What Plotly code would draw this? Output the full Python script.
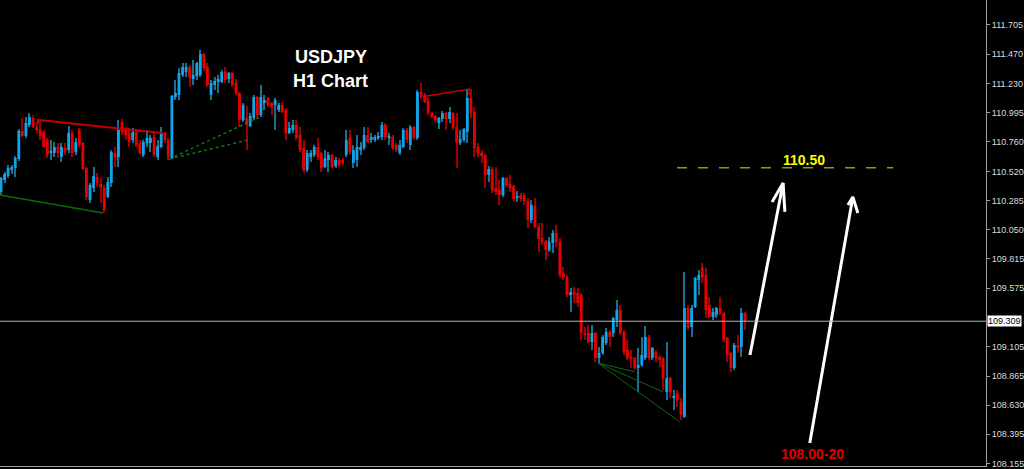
import plotly.graph_objects as go

# -----------------------------------------------------
# USDJPY H1 candles (oldest -> newest)
# -----------------------------------------------------
open_ = [
    110.354, 110.451, 110.484, 110.532, 110.548, 110.621, 110.848, 110.807, 110.896, 110.953,
    110.880, 110.864, 110.840, 110.775, 110.670, 110.670, 110.718, 110.637, 110.710, 110.694,
    110.831, 110.678, 110.856, 110.751, 110.548, 110.290, 110.387, 110.475, 110.419, 110.387,
    110.314, 110.427, 110.670, 110.637, 110.920, 110.864, 110.831, 110.775, 110.840, 110.751,
    110.654, 110.751, 110.751, 110.799, 110.637, 110.718, 110.831, 110.775, 110.629, 111.123,
    111.139, 111.301, 111.325, 111.365, 111.268, 111.292, 111.301, 111.470, 111.365, 111.139,
    111.220, 111.244, 111.244, 111.325, 111.268, 111.317, 111.236, 111.155, 110.937, 110.953,
    110.888, 110.953, 111.123, 110.977, 111.074, 111.114, 111.074, 111.058, 111.017, 111.058,
    111.017, 110.831, 110.856, 110.896, 110.815, 110.710, 110.532, 110.637, 110.654, 110.718,
    110.670, 110.556, 110.613, 110.654, 110.565, 110.613, 110.613, 110.654, 110.791, 110.589,
    110.613, 110.694, 110.710, 110.815, 110.775, 110.775, 110.791, 110.799, 110.896, 110.791,
    110.799, 110.734, 110.670, 110.718, 110.856, 110.734, 110.880, 110.791, 111.163, 111.139,
    111.090, 110.993, 110.969, 110.912, 110.945, 110.993, 110.945, 110.993, 110.880, 110.751,
    110.775, 110.840, 111.114, 111.001, 110.718, 110.670, 110.654, 110.492, 110.540, 110.387,
    110.370, 110.330, 110.467, 110.419, 110.403, 110.306, 110.330, 110.330, 110.282, 110.128,
    110.241, 110.071, 109.982, 109.958, 109.885, 109.942, 110.023, 109.950, 109.699, 109.667,
    109.521, 109.546, 109.538, 109.521, 109.214, 109.214, 109.141, 109.214, 109.012, 109.053,
    109.133, 109.222, 109.214, 109.319, 109.400, 109.222, 109.077, 109.020, 109.012, 108.931,
    108.955, 109.012, 109.182, 109.012, 109.061, 109.020, 109.012, 108.737, 108.850, 108.688,
    108.729, 108.656, 108.535, 109.416, 109.262, 109.424, 109.643, 109.740, 109.683, 109.440,
    109.343, 109.360, 109.416, 109.376, 109.173, 109.053, 108.931, 109.117, 109.101, 109.376,
]
high = [
    110.475, 110.516, 110.573, 110.573, 110.645, 110.864, 110.953, 110.961, 110.993, 110.977,
    110.920, 110.937, 110.856, 110.791, 110.775, 110.759, 110.751, 110.751, 110.751, 110.888,
    110.856, 110.791, 110.872, 110.759, 110.556, 110.427, 110.556, 110.508, 110.467, 110.411,
    110.475, 110.694, 110.718, 110.937, 110.945, 110.880, 110.872, 110.872, 110.856, 110.775,
    110.775, 110.856, 110.815, 110.831, 110.775, 110.880, 110.840, 110.791, 111.139, 111.260,
    111.357, 111.398, 111.398, 111.381, 111.422, 111.406, 111.503, 111.478, 111.398, 111.260,
    111.284, 111.301, 111.341, 111.365, 111.325, 111.325, 111.268, 111.163, 111.074, 111.050,
    110.993, 111.139, 111.131, 111.220, 111.139, 111.123, 111.082, 111.114, 111.074, 111.082,
    111.034, 110.920, 110.937, 110.937, 110.880, 110.775, 110.694, 110.694, 110.734, 110.791,
    110.678, 110.694, 110.678, 110.662, 110.637, 110.629, 110.629, 110.856, 110.856, 110.734,
    110.815, 110.759, 110.880, 110.880, 110.831, 110.815, 110.840, 110.920, 110.912, 110.831,
    110.815, 110.751, 110.775, 110.872, 110.872, 110.896, 110.888, 111.179, 111.236, 111.155,
    111.114, 111.001, 110.977, 110.961, 111.009, 111.001, 111.042, 111.001, 110.993, 110.856,
    110.872, 111.179, 111.187, 111.042, 110.751, 110.694, 110.662, 110.565, 110.556, 110.556,
    110.451, 110.475, 110.475, 110.492, 110.411, 110.362, 110.346, 110.346, 110.306, 110.290,
    110.306, 110.104, 110.104, 109.966, 109.990, 110.047, 110.087, 109.982, 109.748, 109.683,
    109.578, 109.586, 109.578, 109.538, 109.262, 109.279, 109.279, 109.222, 109.101, 109.198,
    109.254, 109.238, 109.343, 109.481, 109.440, 109.238, 109.157, 109.077, 109.020, 109.093,
    109.182, 109.271, 109.198, 109.101, 109.077, 109.036, 109.020, 109.141, 108.858, 108.753,
    108.753, 108.688, 109.707, 109.440, 109.440, 109.667, 109.723, 109.780, 109.740, 109.505,
    109.416, 109.424, 109.505, 109.384, 109.182, 109.061, 109.133, 109.198, 109.416, 109.384,
]
low = [
    110.330, 110.427, 110.467, 110.500, 110.475, 110.605, 110.799, 110.791, 110.880, 110.872,
    110.831, 110.775, 110.710, 110.629, 110.613, 110.637, 110.629, 110.597, 110.654, 110.670,
    110.637, 110.654, 110.718, 110.532, 110.290, 110.266, 110.354, 110.395, 110.266, 110.185,
    110.306, 110.395, 110.556, 110.556, 110.815, 110.775, 110.718, 110.751, 110.718, 110.654,
    110.637, 110.718, 110.678, 110.637, 110.613, 110.710, 110.751, 110.613, 110.621, 111.098,
    111.098, 111.284, 111.284, 111.203, 111.220, 111.260, 111.284, 111.333, 111.203, 111.098,
    111.179, 111.155, 111.236, 111.236, 111.236, 111.203, 111.139, 110.880, 110.920, 110.694,
    110.880, 110.937, 110.961, 110.961, 111.017, 111.042, 110.977, 110.856, 111.001, 110.993,
    110.775, 110.823, 110.831, 110.775, 110.678, 110.508, 110.516, 110.597, 110.637, 110.613,
    110.516, 110.548, 110.516, 110.548, 110.548, 110.556, 110.573, 110.637, 110.654, 110.548,
    110.556, 110.654, 110.694, 110.751, 110.751, 110.759, 110.775, 110.775, 110.775, 110.734,
    110.694, 110.678, 110.654, 110.710, 110.751, 110.694, 110.775, 110.775, 111.106, 111.074,
    110.977, 110.953, 110.920, 110.864, 110.920, 110.856, 110.912, 110.856, 110.548, 110.734,
    110.759, 110.751, 110.953, 110.637, 110.637, 110.589, 110.387, 110.435, 110.346, 110.330,
    110.249, 110.314, 110.395, 110.354, 110.282, 110.274, 110.274, 110.249, 110.063, 110.104,
    110.063, 109.869, 109.926, 109.804, 109.869, 109.861, 109.910, 109.659, 109.643, 109.505,
    109.384, 109.457, 109.424, 109.157, 109.157, 109.133, 109.077, 108.980, 108.972, 109.036,
    109.117, 109.101, 109.182, 109.262, 109.198, 109.036, 108.996, 108.931, 108.915, 108.737,
    108.939, 108.996, 108.996, 108.996, 108.980, 108.939, 108.753, 108.672, 108.688, 108.591,
    108.615, 108.511, 108.527, 109.238, 109.182, 109.416, 109.521, 109.618, 109.335, 109.335,
    109.319, 109.335, 109.360, 109.141, 108.980, 108.899, 108.915, 109.053, 109.020, 109.238,
]
close = [
    110.467, 110.500, 110.548, 110.556, 110.629, 110.848, 110.807, 110.912, 110.961, 110.880,
    110.856, 110.807, 110.718, 110.654, 110.678, 110.718, 110.670, 110.718, 110.678, 110.831,
    110.670, 110.759, 110.734, 110.540, 110.314, 110.411, 110.484, 110.427, 110.387, 110.209,
    110.435, 110.678, 110.637, 110.856, 110.840, 110.815, 110.759, 110.840, 110.734, 110.670,
    110.759, 110.791, 110.791, 110.654, 110.726, 110.831, 110.775, 110.637, 111.131, 111.155,
    111.317, 111.365, 111.365, 111.276, 111.301, 111.398, 111.470, 111.357, 111.220, 111.236,
    111.252, 111.268, 111.325, 111.260, 111.317, 111.220, 111.155, 110.937, 111.058, 110.896,
    110.969, 111.123, 110.977, 111.123, 111.098, 111.058, 111.042, 111.098, 111.058, 111.001,
    110.831, 110.872, 110.896, 110.791, 110.694, 110.532, 110.670, 110.670, 110.718, 110.637,
    110.548, 110.629, 110.654, 110.556, 110.613, 110.573, 110.589, 110.775, 110.678, 110.694,
    110.718, 110.718, 110.815, 110.759, 110.799, 110.799, 110.799, 110.896, 110.799, 110.799,
    110.710, 110.694, 110.734, 110.856, 110.775, 110.880, 110.791, 111.163, 111.123, 111.082,
    110.993, 110.961, 110.937, 110.953, 110.993, 110.945, 111.001, 110.872, 110.751, 110.783,
    110.864, 111.114, 110.993, 110.710, 110.662, 110.645, 110.492, 110.540, 110.370, 110.354,
    110.330, 110.467, 110.411, 110.387, 110.298, 110.322, 110.298, 110.282, 110.128, 110.249,
    110.071, 109.974, 109.950, 109.885, 109.950, 110.023, 109.950, 109.683, 109.667, 109.521,
    109.546, 109.521, 109.457, 109.214, 109.198, 109.141, 109.214, 109.012, 109.053, 109.182,
    109.222, 109.182, 109.335, 109.400, 109.214, 109.061, 109.012, 109.004, 108.931, 108.955,
    109.036, 109.182, 109.012, 109.093, 109.012, 108.996, 108.850, 108.850, 108.737, 108.705,
    108.672, 108.551, 109.416, 109.254, 109.416, 109.659, 109.683, 109.667, 109.400, 109.343,
    109.384, 109.416, 109.376, 109.157, 109.036, 108.931, 109.117, 109.093, 109.376, 109.309,
]
price_ticks = [111.705, 111.470, 111.230, 110.995, 110.760, 110.520, 110.285, 110.050,
               109.815, 109.575, 109.105, 108.865, 108.630, 108.395, 108.155]
last_price = 109.309
target_level = 110.55

UP, DOWN = '#12A4E6', '#E80000'
UP_WICK, DOWN_WICK = '#1B6F92', '#A00000'

x = list(range(len(close)))
is_up = [c >= o for o, c in zip(open_, close)]

fig = go.Figure()

# 꼬리(wick)
fig.add_trace(go.Bar(
    x=x, base=low, y=[h - l for h, l in zip(high, low)], width=0.3,
    marker=dict(color=[UP_WICK if u else DOWN_WICK for u in is_up], line_width=0),
    hoverinfo='skip'))
# 몸통(body)
fig.add_trace(go.Bar(
    x=x, base=[min(o, c) for o, c in zip(open_, close)],
    y=[max(abs(c - o), 0.006) for o, c in zip(open_, close)], width=0.8,
    marker=dict(color=[UP if u else DOWN for u in is_up], line_width=0),
    hoverinfo='skip'))


def add_line(xs, ys, color, width=1.2, dash='solid'):
    fig.add_trace(go.Scatter(x=xs, y=ys, mode='lines', line=dict(color=color, width=width, dash=dash),
                             hoverinfo='skip'))


# trendlines drawn on the chart
add_line([10.4, 10.4, 45.5], [110.905, 110.937, 110.831], '#C00000', 2)
add_line([-0.3, 28.65], [110.330, 110.185], '#0B6A0B', 1.5)
add_line([47.2, 72.75], [110.621, 110.961], '#0B7A0B', 1.5, 'dot')
add_line([47.2, 69.4], [110.621, 110.775], '#0B7A0B', 1.5, 'dot')
add_line([119.7, 119.7, 131.5, 131.5], [111.090, 111.131, 111.187, 111.139], '#C00000', 1.5)
for ex, ey in [(178.1, 108.899), (186.0, 108.737), (190.7, 108.494)]:
    add_line([167.7, ex], [108.971, ey], '#0B6A0B', 1)

# target level
add_line([189.9, 250.6], [target_level, target_level], '#9A9A00', 1.5, '10px,11px')

# arrows (open chevron heads)
add_line([210.4, 219.7, None, 216.6, 219.7, 220.2],
         [109.036, 110.427, None, 110.273, 110.427, 110.193], 'white', 3)
add_line([227.2, 239.3, None, 237.9, 239.3, 240.7],
         [108.324, 110.314, None, 110.249, 110.314, 110.184], 'white', 3)

fig.add_hline(y=last_price, line=dict(color='#B4B4B4', width=1))

annos = [
    dict(x=92.7, y=111.446, text='<b>USDJPY</b>', font=dict(size=18, color='white')),
    dict(x=92.7, y=111.252, text='<b>H1 Chart</b>', font=dict(size=18, color='white')),
    dict(x=225.6, y=110.613, text='<b>110.50</b>', font=dict(size=14, color='#FFFF00')),
    dict(x=228.1, y=108.236, text='<b>108.00-20</b>', font=dict(size=14, color='#E00000')),
]
for a in annos:
    a['font']['family'] = 'Liberation Sans, Arial'
    fig.add_annotation(showarrow=False, **a)

fig.add_annotation(xref='paper', x=1.0, xanchor='left', xshift=1, y=last_price, text='109.309',
                   showarrow=False, bgcolor='white', font=dict(size=9, color='black', family='Liberation Sans, Arial'),
                   borderpad=0)

fig.update_layout(
    width=1024, height=469, barmode='overlay', showlegend=False,
    paper_bgcolor='black', plot_bgcolor='black',
    margin=dict(t=0, b=3, l=0, r=38, autoexpand=False),
    xaxis=dict(range=[-0.28, 276.7], showgrid=False, zeroline=False, showticklabels=False,
               showline=True, linecolor='#A0A0A0', linewidth=1, automargin=False),
    yaxis=dict(range=[108.138, 111.907], side='right', showgrid=False, zeroline=False,
               tickvals=price_ticks, tickformat='.3f', ticks='outside', ticklen=3, tickcolor='#A0A0A0',
               showline=True, linecolor='#A0A0A0', linewidth=1, automargin=False,
               ticklabeloverflow='allow',
               tickfont=dict(size=9, color='#DCDCDC', family='Liberation Sans, Arial')),
)

# 페이지 기본 여백 제거
fig.write_html("out.html", config={'displayModeBar': False},
               post_script="document.body.style.margin='0';document.body.style.background='black';")
